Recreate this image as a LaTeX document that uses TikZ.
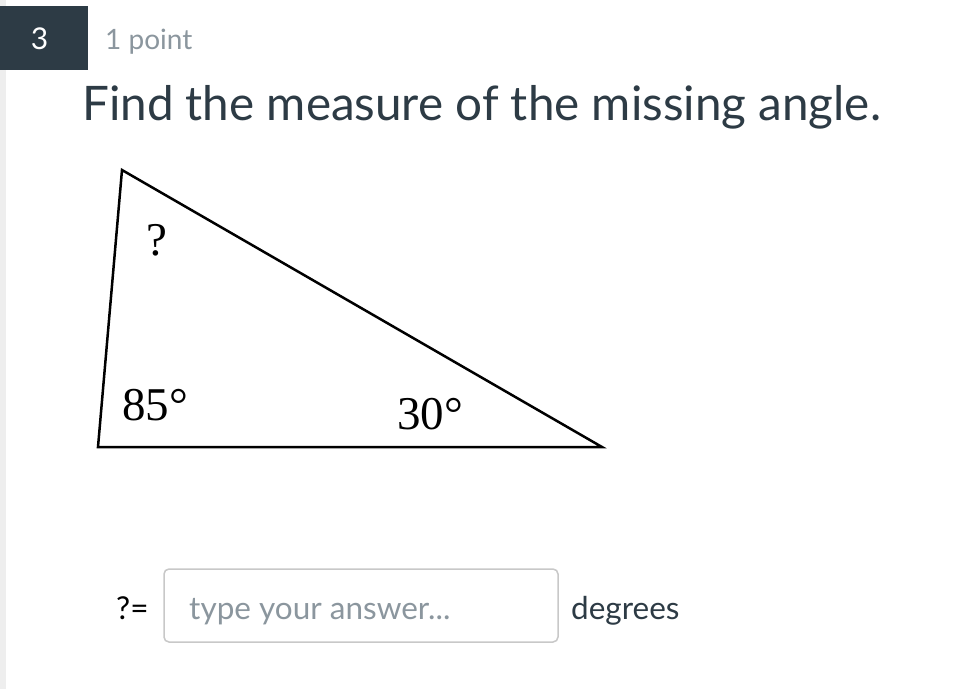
\documentclass[tikz,border=0pt]{standalone}
\usepackage{fontspec}
\setmainfont{Lato}
\newfontfamily\timesfont{Liberation Serif}
\usepackage{tikz}
\usetikzlibrary{positioning}
\definecolor{slate}{HTML}{2D3B45}
\definecolor{lightgray}{HTML}{8B969E}
\definecolor{boxgray}{HTML}{C8C8C8}
\definecolor{stripgray}{HTML}{EEEEEE}
\newcommand{\fsize}[1]{\fontsize{#1}{#1}\selectfont}

\tikzset{
    txt/.style={inner sep=0pt, anchor=base west},
    anglelbl/.style={txt, font=\timesfont\fsize{47}, text=black},
}

\begin{document}
\begin{tikzpicture}[x=1pt, y=-1pt]
    \useasboundingbox (0,0) rectangle (960,689);
    \fill[white] (0,0) rectangle (960,689);
    % Draw left strip and question badge
    \fill[stripgray] (0,0) rectangle (6,689);
    \fill[slate] (0,6) rectangle (88,70);
    \node (num) [inner sep=0pt, anchor=base, text=white, font=\fsize{30}] at (39.5,49) {3};
    \node (pts) [txt, text=lightgray, font=\fsize{28}] at (105,49) {1 point};
    % Title
    \node (title) [txt, text=slate, font=\fsize{47.6}] at (82,120) {Find the measure of the missing angle.};
    % Draw the triangle
    \coordinate (top) at (122,170);
    \coordinate (left) at (98,447);
    \coordinate (right) at (602,447);
    \draw[line width=2.5pt, line join=miter] (top) -- (left) -- (right) -- cycle;
    \node (qang) [anglelbl] at (146,255) {?};
    \node (lang) [anglelbl] at (122,420) {85°};
    \node (rang) [anglelbl] at (397,429) {30°};
    % Answer line
    \node (qeq) [txt, text=black, font=\fsize{31.5}] at (116,619) {?=};
    \draw[boxgray, line width=1.5pt, rounded corners=5pt] (164,569) rectangle (558,642);
    \node (hint) [txt, text=lightgray, font=\fsize{31.5}] at (189,619) {type your answer...};
    \node (unit) [txt, text=slate, font=\fsize{31.5}] at (571,619) {degrees};
\end{tikzpicture}
\end{document}
